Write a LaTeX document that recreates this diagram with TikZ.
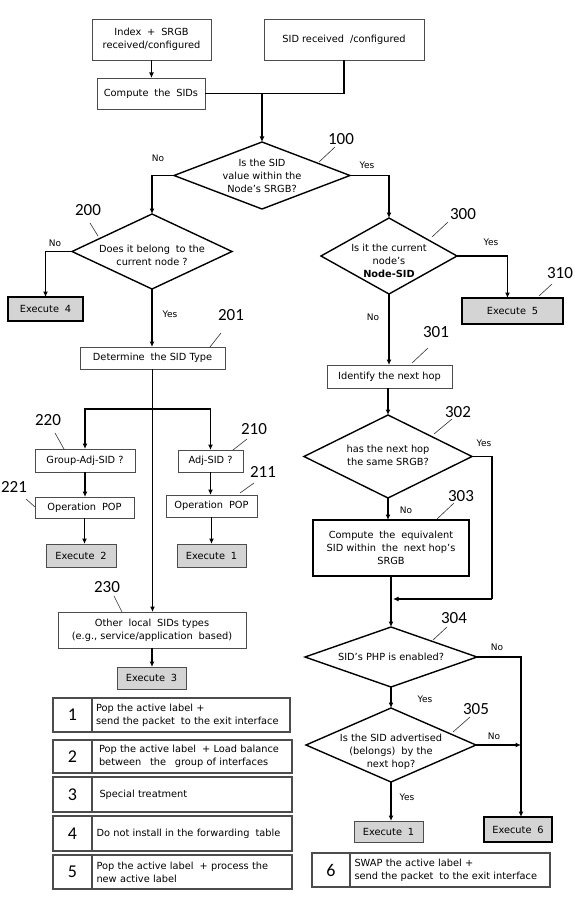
\documentclass[tikz,border=0pt]{standalone}
\usepackage{fontspec}
\setmainfont{DejaVu Sans}
\newfontfamily\numfont{Carlito}
\usetikzlibrary{shapes.geometric,arrows.meta}
\begin{document}
\begin{tikzpicture}[x=1pt,y=-1pt,
  every node/.style={inner sep=0pt, outer sep=0pt},
  txt/.style={font=\fontsize{9.8}{13}\selectfont, align=center},
  box/.style={txt, draw=black!70, line width=0.9pt, fill=white, rectangle},
  exbox/.style={box, fill=black!17},
  exthick/.style={exbox, draw=black, line width=1.6pt},
  dia/.style={diamond, draw=black, line width=1.4pt, fill=white},
  arr/.style={line width=1.4pt, -{Latex[length=5.5pt,width=5pt]}},
  ln/.style={line width=1.4pt},
  yn/.style={font=\fontsize{9}{11}\selectfont},
  num/.style={font=\numfont\fontsize{17}{20}\selectfont},
  lead/.style={line width=0.6pt, black!80},
  legn/.style={draw=black!70, line width=1.1pt, font=\numfont\fontsize{18}{20}\selectfont, rectangle},
  legt/.style={draw=black!70, line width=1.1pt, font=\fontsize{9.8}{13.3}\selectfont, align=left, rectangle, anchor=west, inner ysep=0pt},
]
\useasboundingbox (0,0) rectangle (575,904);
\fill[white] (0,0) rectangle (575,904);

% ---------- top ----------
\node[box, minimum width=119, minimum height=41] (idx) at (151.5,39.5) {Index\; +\; SRGB\\received/configured};
\node[box, minimum width=160, minimum height=41] (sid) at (344,39.5) {SID received\; /configured};
\node[box, minimum width=108, minimum height=31] (cmp) at (151,93.5) {Compute\; the\; SIDs};

\node[dia, minimum width=176, minimum height=67,
  label={[txt]center:Is the SID\\value within the\\Node’s SRGB?}] (d100) at (262,175.5) {};

% ---------- left branch ----------
\node[dia, minimum width=160, minimum height=75,
  label={[txt,yshift=-4pt]center:Does it belong\; to the\\current node ?}] (d200) at (152,251.5) {};
\node[exthick, minimum width=75, minimum height=24] (ex4) at (45.5,309) {Execute\; 4};
\node[box, minimum width=145, minimum height=22] (det) at (152.5,358) {Determine\; the SID Type};

\node[box, minimum width=100, minimum height=23] (gadj) at (85,460.5) {Group-Adj-SID ?};
\node[box, minimum width=65, minimum height=22] (adj) at (210.5,461) {Adj-SID ?};
\node[box, minimum width=99, minimum height=21] (pop1) at (84.5,507.5) {Operation\; POP};
\node[box, minimum width=91, minimum height=22] (pop2) at (211.5,506) {Operation\; POP};
\node[exbox, minimum width=70, minimum height=23] (ex2) at (81,555.5) {Execute\; 2};
\node[exbox, minimum width=69, minimum height=23] (ex1a) at (211.5,555.5) {Execute\; 1};
\node[box, minimum width=188, minimum height=36] (other) at (152,630) {Other\; local\; SIDs types\\(e.g., service/application\; based)};
\node[exbox, minimum width=69, minimum height=22] (ex3) at (151.5,678) {Execute\; 3};

% ---------- right branch ----------
\node[dia, minimum width=136, minimum height=76,
  label={[txt,yshift=-5pt]center:Is it the current\\node’s\\\textbf{Node-SID}}] (d300) at (389,256) {};
\node[exthick, minimum width=101, minimum height=26] (ex5) at (512.5,311) {Execute\; 5};
\node[box, minimum width=125, minimum height=23] (nh) at (389.5,376.5) {Identify the next hop};
\node[dia, minimum width=168, minimum height=83,
  label={[txt,yshift=1pt]center:has the next hop\\the same SRGB?}] (d302) at (388,456.5) {};
\node[box, draw=black, line width=1.5pt, minimum width=156, minimum height=56] (ceq) at (391,548) {Compute\; the\; equivalent\\SID within\; the\; next hop’s\\SRGB};
\node[dia, minimum width=172, minimum height=60,
  label={[txt]center:SID’s PHP is enabled?}] (d304) at (391,657) {};
\node[dia, minimum width=170, minimum height=74,
  label={[txt,yshift=-7pt]center:Is the SID advertised\\(belongs)\; by the\\next hop?}] (d305) at (391,745) {};
\node[exbox, minimum width=69, minimum height=21] (ex1b) at (388.5,831.5) {Execute\; 1};
\node[exthick, minimum width=68, minimum height=25] (ex6) at (518,829.5) {Execute\; 6};

% ---------- connectors ----------
\coordinate (j1) at (262,93.5);
\draw[arr] (idx.south) -- (idx.south |- cmp.north);
\draw[ln] (cmp.east) -- (j1);
\draw[ln] (sid.south) |- (j1);
\draw[arr] (j1) -- (d100.north);
\draw[arr] (d100.west) -| (d200.north);
\draw[arr] (d100.east) -| (d300.north);
\draw[arr] (d200.west) -| (ex4.north);
\draw[arr] (d200.south) -- (d200.south |- det.north);
\coordinate (j2) at (152.5,409);
\draw[arr] (det.south) -- (det.south |- other.north);
\draw[arr] (j2) -| (gadj.north);
\draw[arr] (j2) -| (adj.north);
\draw[arr] (gadj.south) -- (gadj.south |- pop1.north);
\draw[arr] (pop1.south) -- (pop1.south |- ex2.north);
\draw[arr] (adj.south) -- (adj.south |- pop2.north);
\draw[arr] (pop2.south) -- (pop2.south |- ex1a.north);
\draw[arr] (other.south) -- (other.south |- ex3.north);

\draw[arr] (d300.east) -| ([xshift=-5pt]ex5.north);
\draw[arr] (d300.south) -- (d300.south |- nh.north);
\draw[arr] (d302.north |- nh.south) -- (d302.north);
\draw[arr] (d302.south) -- (d302.south |- ceq.north);
\coordinate (j3) at (492,599);
\draw[ln] (d302.east) -| (j3);
\draw[arr] (j3) -- ([xshift=2pt]ceq.south |- j3);
\draw[arr] (ceq.south) -- (d304.north);
\draw[arr] (d304.east) -| ([xshift=3pt]ex6.north);
\draw[arr] (d304.south) -- (d305.north);
\draw[arr] (d305.east) -- ([xshift=3pt]d305.east -| ex6.north);
\draw[arr] (d305.south) -- (d305.south |- ex1b.north);

% ---------- yes / no ----------
\node[yn] (n100) at (158,158) {No};
\node[yn] (y100) at (367,165) {Yes};
\node[yn] (n200) at (55,243) {No};
\node[yn] (y200) at (170,314) {Yes};
\node[yn] (y300) at (491,242) {Yes};
\node[yn] (n300) at (373,317) {No};
\node[yn] (y302) at (484,443) {Yes};
\node[yn] (n302) at (406,510) {No};
\node[yn] (n304) at (497,647) {No};
\node[yn] (y304) at (425,699) {Yes};
\node[yn] (n305) at (494,736) {No};
\node[yn] (y305) at (407,797) {Yes};

% ---------- reference numbers ----------
\node[num] (l100) at (341,139) {100};
\node[num] (l200) at (88,210) {200};
\node[num] (l300) at (463,214) {300};
\node[num] (l310) at (560,273) {310};
\node[num] (l201) at (231,315) {201};
\node[num] (l301) at (436,332) {301};
\node[num] (l220) at (48,420) {220};
\node[num] (l221) at (14,487) {221};
\node[num] (l210) at (254,429) {210};
\node[num] (l211) at (263,472) {211};
\node[num] (l230) at (107,587) {230};
\node[num] (l302) at (458,412) {302};
\node[num] (l303) at (461,496) {303};
\node[num] (l304) at (454,618) {304};
\node[num] (l305) at (476,709) {305};

\draw[lead] (319,162) -- (335,147);
\draw[lead] (98,236) -- (90,223);
\draw[lead] (432,237) -- (448,222);
\draw[lead] (539,296) -- (552,284);
\draw[lead] (210,347) -- (221,333);
\draw[lead] (412,363) -- (428,348);
\draw[lead] (64,449) -- (55,433);
\draw[lead] (35,507) -- (26,499);
\draw[lead] (233,450) -- (247,439);
\draw[lead] (240,493) -- (254,483);
\draw[lead] (122,612) -- (114,596);
\draw[lead] (434,434) -- (452,419);
\draw[lead] (437,519) -- (454,503);
\draw[lead] (433,640) -- (447,627);
\draw[lead] (453,732) -- (470,717);

% ---------- legend ----------
\node[legn, minimum width=39, minimum height=34] (g1) at (72.5,715) {1};
\node[legt, minimum height=34, text width=190, inner xsep=4pt] (t1) at (g1.east) {Pop the active label +\\send the packet\; to the exit interface};
\node[legn, minimum width=39, minimum height=33] (g2) at (72.5,756.5) {2};
\node[legt, minimum height=33, text width=186, inner xsep=7pt] (t2) at (g2.east) {Pop the active label\; + Load balance\\between\;\; the\;\; group of interfaces};
\node[legn, minimum width=39, minimum height=35] (g3) at (72.5,794.5) {3};
\node[legt, minimum height=35, text width=185, inner xsep=7.5pt] (t3) at (g3.east) {Special treatment};
\node[legn, minimum width=39, minimum height=35] (g4) at (72.5,833.5) {4};
\node[legt, minimum height=35, text width=191, inner xsep=4.5pt] (t4) at (g4.east) {Do not install in the forwarding\; table};
\node[legn, minimum width=39, minimum height=34] (g5) at (72.5,872) {5};
\node[legt, minimum height=34, text width=191, inner xsep=4.5pt] (t5) at (g5.east) {Pop the active label\; + process the\\new active label};
\node[legn, minimum width=38, minimum height=34] (g6) at (331,870) {6};
\node[legt, minimum height=34, text width=191, inner xsep=4.5pt] (t6) at (g6.east) {SWAP the active label +\\send the packet\; to the exit interface};
\end{tikzpicture}
\end{document}
